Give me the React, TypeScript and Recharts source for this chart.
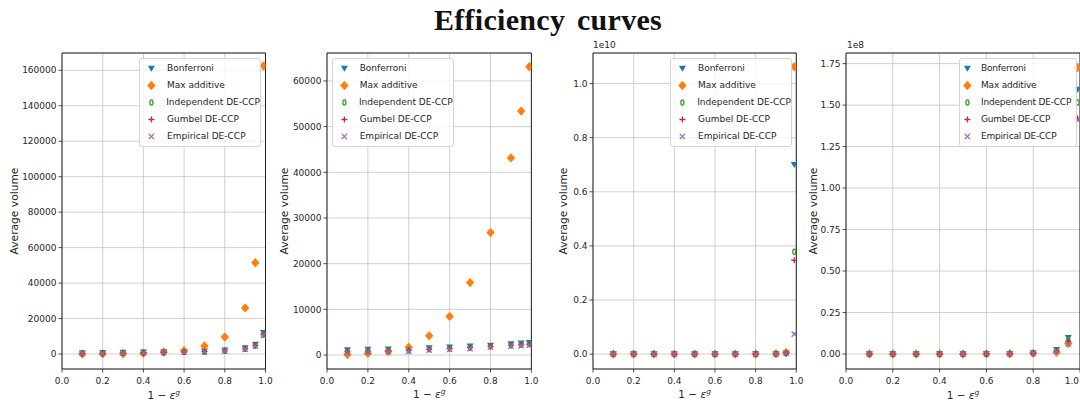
import React from "react";
import {
  ScatterChart,
  Scatter,
  XAxis,
  YAxis,
  CartesianGrid,
  Legend,
  ReferenceArea,
} from "recharts";

// shared x values (1 - eps^g)
const epsLevels = [0.1, 0.2, 0.3, 0.4, 0.5, 0.6, 0.7, 0.8, 0.9, 0.95, 0.99];
const xTicks = [0, 0.2, 0.4, 0.6, 0.8, 1.0];

// panel 1
const bonferroni1 = [600, 700, 800, 900, 1100, 1300, 1600, 2100, 3400, 5400, 12000];
const maxAdditive1 = [30, 60, 150, 450, 1100, 1900, 4500, 9600, 26000, 51500, 162500];
const independent1 = [400, 500, 600, 700, 900, 1100, 1300, 1800, 2900, 4800, 11000];
const gumbel1 = [400, 500, 600, 700, 900, 1100, 1300, 1800, 2900, 4700, 11000];
const empirical1 = [300, 400, 500, 600, 800, 1000, 1200, 1600, 2600, 4400, 10500];
const yTicks1 = [0, 20000, 40000, 60000, 80000, 100000, 120000, 140000, 160000];

// panel 2
const bonferroni2 = [1100, 1200, 1250, 1300, 1550, 1700, 1900, 2100, 2400, 2550, 2650];
const maxAdditive2 = [100, 350, 750, 1700, 4200, 8450, 15850, 26800, 43150, 53400, 63100];
const independent2 = [800, 900, 1000, 1050, 1300, 1450, 1650, 1900, 2150, 2300, 2400];
const gumbel2 = [750, 850, 950, 1000, 1250, 1400, 1600, 1850, 2100, 2250, 2350];
const empirical2 = [500, 600, 700, 800, 1050, 1200, 1400, 1700, 1950, 2050, 2150];
const yTicks2 = [0, 10000, 20000, 30000, 40000, 50000, 60000];

// panel 3 (scale 1e10)
const bonferroni3 = [300, 1000, 3000, 10000, 30000, 100000, 400000, 1500000, 8000000, 40000000, 7.0e9];
const maxAdditive3 = [30, 200, 1000, 5000, 20000, 100000, 500000, 2500000, 12000000, 60000000, 1.062e10];
const independent3 = [200, 800, 2500, 8000, 25000, 80000, 300000, 1200000, 6000000, 30000000, 3.78e9];
const gumbel3 = [200, 700, 2200, 7000, 22000, 70000, 280000, 1100000, 5500000, 28000000, 3.47e9];
const empirical3 = [150, 600, 2000, 6000, 20000, 60000, 250000, 1000000, 5000000, 25000000, 7.4e8];
const yTicks3 = [0, 2e9, 4e9, 6e9, 8e9, 1e10];

// panel 4 (scale 1e8)
const bonferroni4 = [200, 800, 3000, 10000, 30000, 80000, 200000, 600000, 2500000, 9800000, 1.594e8];
const maxAdditive4 = [50, 300, 1500, 6000, 20000, 60000, 150000, 400000, 1000000, 6300000, 1.726e8];
const independent4 = [150, 700, 2500, 8000, 25000, 70000, 180000, 500000, 2200000, 8600000, 1.515e8];
const gumbel4 = [120, 600, 2200, 7000, 22000, 60000, 160000, 450000, 1900000, 7800000, 1.42e8];
const empirical4 = [100, 500, 2000, 6000, 20000, 55000, 140000, 400000, 1600000, 6000000, 1.41e8];
const yTicks4 = [0, 2.5e7, 5e7, 7.5e7, 1e8, 1.25e8, 1.5e8, 1.75e8];

const SERIES = [
  { name: "Bonferroni", color: "#1f77b4", kind: "tri" },
  { name: "Max additive", color: "#ff7f0e", kind: "diamond" },
  { name: "Independent DE-CCP", color: "#2ca02c", kind: "ring" },
  { name: "Gumbel DE-CCP", color: "#d62728", kind: "plus" },
  { name: "Empirical DE-CCP", color: "#9467bd", kind: "cross" },
];

const FONT = "'DejaVu Sans', sans-serif";
const TXT = "#262626";
const PLOT_TOP = 53;
const PLOT_H = 316;
const YW = 60;
const MT = 10;
const MR = 10;
const XH = 40;

function marker(kind: string, color: string, cx: number, cy: number) {
  switch (kind) {
    case "tri":
      return <path d={`M${cx - 3.5},${cy - 2.8}L${cx + 3.5},${cy - 2.8}L${cx},${cy + 3.3}Z`} fill={color} />;
    case "diamond":
      return <path d={`M${cx},${cy - 4.7}L${cx + 4.2},${cy}L${cx},${cy + 4.7}L${cx - 4.2},${cy}Z`} fill={color} />;
    case "ring":
      return <ellipse cx={cx} cy={cy} rx={1.5} ry={2.6} fill="none" stroke={color} strokeWidth={1.3} />;
    case "plus":
      return (
        <path d={`M${cx - 3},${cy}L${cx + 3},${cy}M${cx},${cy - 3}L${cx},${cy + 3}`} stroke={color} strokeWidth={1.3} />
      );
    default:
      return (
        <path
          d={`M${cx - 2.6},${cy - 2.6}L${cx + 2.6},${cy + 2.6}M${cx - 2.6},${cy + 2.6}L${cx + 2.6},${cy - 2.6}`}
          stroke={color}
          strokeWidth={1.3}
        />
      );
  }
}

const makeLegend = (w: number, squeeze: number) => () => (
  <div
    style={{
      width: w,
      height: 89,
      boxSizing: "border-box",
      border: "1px solid #d4d4d4",
      borderRadius: 3,
      background: "rgba(255,255,255,0.8)",
      paddingTop: 0.5,
      fontFamily: FONT,
    }}
  >
    {SERIES.map((s) => (
      <div key={s.name} style={{ display: "flex", alignItems: "center", height: 17 }}>
        <svg width={26 - squeeze * 6} height={17}>
          {marker(s.kind, s.color, 11.4 - squeeze * 4, 8.5)}
        </svg>
        <span
          style={{ fontSize: 9, marginLeft: 1, color: TXT, whiteSpace: "nowrap", letterSpacing: -squeeze * 0.2 }}
        >
          {s.name}
        </span>
      </div>
    ))}
  </div>
);

const XLabelSvg = ({ viewBox }: any) => (
  <text
    x={viewBox.x + viewBox.width / 2}
    y={viewBox.y + 29.5}
    textAnchor="middle"
    fontSize={10.5}
    fill={TXT}
    fontFamily={FONT}
  >
    1 − <tspan fontStyle="italic">ε</tspan>
    <tspan fontStyle="italic" fontSize={7.5} dy={-4}>
      g
    </tspan>
  </text>
);

interface PanelProps {
  left: number;
  width: number;
  values: number[][];
  yDomain: [number, number];
  yTicks: number[];
  yFmt: (v: number) => string;
  ylabelGap: number;
  legendLeft: number;
  legendWidth: number;
  squeeze: number;
  edgePanel?: boolean;
}

const Panel: React.FC<PanelProps> = ({
  left,
  width,
  values,
  yDomain,
  yTicks,
  yFmt,
  ylabelGap,
  legendLeft,
  legendWidth,
  squeeze,
  edgePanel,
}) => {
  const chartLeft = left - YW;
  const chartTop = PLOT_TOP - MT;
  const xTick = (p: any) => {
    const v = Number(p.payload.value);
    // the last panel runs into the page edge; its "1.0" and axis title are drawn as html
    if (edgePanel && v > 0.99) return <g />;
    return (
      <text x={p.x} y={p.y} dy="0.71em" textAnchor="middle" fontSize={9} fill={TXT} fontFamily={FONT}>
        {v.toFixed(1)}
      </text>
    );
  };
  return (
    <div style={{ position: "absolute", left: chartLeft, top: chartTop }}>
      <ScatterChart width={YW + width + MR} height={MT + PLOT_H + XH} margin={{ top: MT, right: MR, left: 0, bottom: 0 }}>
        <CartesianGrid stroke="#c4c4c4" strokeWidth={0.8} />
        <XAxis
          type="number"
          dataKey="x"
          domain={[0, 1]}
          ticks={xTicks}
          interval={0}
          allowDataOverflow
          height={XH}
          tick={xTick}
          tickSize={3.5}
          tickMargin={5}
          tickLine={{ stroke: "#222", strokeWidth: 0.8 }}
          axisLine={false}
          label={edgePanel ? undefined : { content: XLabelSvg }}
        />
        <YAxis
          type="number"
          dataKey="y"
          domain={yDomain}
          ticks={yTicks}
          interval={0}
          allowDataOverflow
          width={YW}
          tickFormatter={yFmt}
          tick={{ fontSize: 9, fill: TXT, fontFamily: FONT }}
          tickSize={3.5}
          tickMargin={2}
          tickLine={{ stroke: "#222", strokeWidth: 0.8 }}
          axisLine={false}
          label={{
            content: ({ viewBox }: any) => {
              const cx = viewBox.x + viewBox.width - ylabelGap + 3.6;
              const cy = viewBox.y + viewBox.height / 2;
              return (
                <text
                  x={cx}
                  y={cy}
                  transform={`rotate(-90 ${cx} ${cy})`}
                  textAnchor="middle"
                  fontSize={10.7}
                  fill={TXT}
                  fontFamily={FONT}
                >
                  Average volume
                </text>
              );
            },
          }}
        />
        <ReferenceArea x1={0} x2={1} y1={yDomain[0]} y2={yDomain[1]} fill="none" stroke="#222" strokeWidth={1} />
        {SERIES.map((s, k) => (
          <Scatter
            key={s.name}
            name={s.name}
            data={epsLevels.map((x, i) => ({ x, y: values[k][i] }))}
            fill={s.color}
            isAnimationActive={false}
            shape={(p: any) => marker(s.kind, s.color, p.cx, p.cy)}
          />
        ))}
        <Legend
          layout="vertical"
          align="center"
          verticalAlign="middle"
          content={makeLegend(legendWidth, squeeze)}
          wrapperStyle={{ left: legendLeft - chartLeft, top: 58.3 - chartTop, width: legendWidth, height: 89 }}
        />
      </ScatterChart>
    </div>
  );
};

export default function App() {
  return (
    <div
      style={{
        position: "absolute",
        left: 0,
        top: 0,
        width: 1080,
        height: 402,
        overflow: "hidden",
        background: "#fff",
        fontFamily: FONT,
      }}
    >
      <div
        style={{
          position: "absolute",
          left: 0,
          width: 1096,
          top: 3,
          textAlign: "center",
          fontFamily: "'Liberation Serif', serif",
          fontWeight: "bold",
          fontSize: 30,
          color: "#111",
          letterSpacing: 0.3,
          wordSpacing: 4,
        }}
      >
        Efficiency curves
      </div>
      <Panel
        left={62}
        width={203.5}
        values={[bonferroni1, maxAdditive1, independent1, gumbel1, empirical1]}
        yDomain={[-8450, 169750]}
        yTicks={yTicks1}
        yFmt={(v) => String(v)}
        ylabelGap={48}
        legendLeft={139}
        legendWidth={122}
        squeeze={0}
      />
      <Panel
        left={327.3}
        width={204.4}
        values={[bonferroni2, maxAdditive2, independent2, gumbel2, empirical2]}
        yDomain={[-3060, 66120]}
        yTicks={yTicks2}
        yFmt={(v) => String(v)}
        ylabelGap={43}
        legendLeft={331.7}
        legendWidth={122}
        squeeze={0}
      />
      <Panel
        left={592.7}
        width={203.3}
        values={[bonferroni3, maxAdditive3, independent3, gumbel3, empirical3]}
        yDomain={[-0.055e10, 1.113e10]}
        yTicks={yTicks3}
        yFmt={(v) => (v / 1e10).toFixed(1)}
        ylabelGap={30}
        legendLeft={670}
        legendWidth={122}
        squeeze={0}
      />
      <Panel
        left={846}
        width={234}
        values={[bonferroni4, maxAdditive4, independent4, gumbel4, empirical4]}
        yDomain={[-0.0903e8, 1.814e8]}
        yTicks={yTicks4}
        yFmt={(v) => (v / 1e8).toFixed(2)}
        ylabelGap={33}
        legendLeft={959}
        legendWidth={118}
        squeeze={1}
        edgePanel
      />
      <div style={{ position: "absolute", left: 593, top: 40, fontSize: 9, color: TXT }}>1e10</div>
      <div style={{ position: "absolute", left: 847, top: 40, fontSize: 9, color: TXT }}>1e8</div>
      {/* last panel: "1.0" tick label and x title, kept inside the page edge */}
      <div
        style={{
          position: "absolute",
          left: 1040,
          width: 39,
          top: 375.5,
          textAlign: "right",
          fontSize: 9,
          lineHeight: "normal",
          color: TXT,
        }}
      >
        {xTicks[xTicks.length - 1].toFixed(1)}
      </div>
      <div
        style={{
          position: "absolute",
          left: 903,
          width: 120,
          top: 388.5,
          textAlign: "center",
          fontSize: 10.5,
          lineHeight: "normal",
          color: TXT,
          whiteSpace: "nowrap",
        }}
      >
        1 − <i>ε</i>
        <i style={{ fontSize: 7.5, position: "relative", top: -4 }}>g</i>
      </div>
    </div>
  );
}
